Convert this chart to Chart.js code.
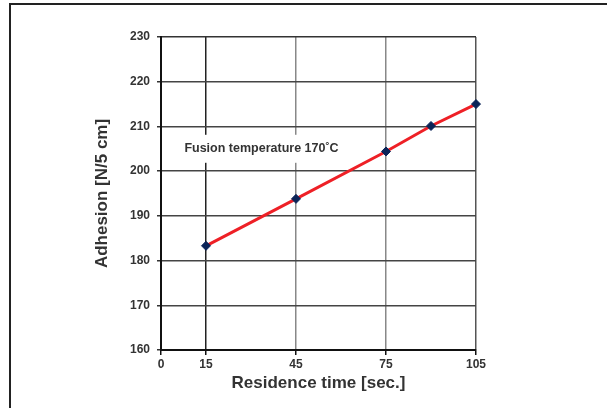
<!DOCTYPE html>
<html lang="en">
<head>
    <meta charset="UTF-8">
    <title>Adhesion vs residence time</title>
    <style type="text/css">
        html, body { margin: 0; background: #fff; overflow: hidden; }
    </style>
</head>
<body>
    <canvas id="myChart" width="607" height="408"></canvas>

    <script src="https://cdn.jsdelivr.net/npm/chart.js"></script>

    <script>
        // data
        const residence = [15, 45, 75, 90, 105];
        const adhesion = [183.3, 193.8, 204.4, 210.1, 215.0];
        const xTicks = [0, 15, 45, 75, 105];
        const note = 'Fusion temperature 170\u02DAC';

        const labelFont = { family: "'Liberation Sans', Arial, sans-serif", size: 12, weight: 'bold' };
        const titleFont = { family: "'Liberation Sans', Arial, sans-serif", size: 17, weight: 'bold' };

        // outer frame: only left and top edges are in view
        const framePlugin = {
            id: 'frame',
            beforeDraw(chart) {
                const c = chart.ctx;
                c.save();
                c.strokeStyle = '#222';
                c.lineWidth = 2;
                c.beginPath();
                c.moveTo(10, chart.height);
                c.lineTo(10, 4);
                c.lineTo(chart.width, 4);
                c.stroke();
                c.restore();
            }
        };

        // label with white box inside the plot area
        const notePlugin = {
            id: 'note',
            afterDatasetsDraw(chart) {
                const c = chart.ctx;
                const x = chart.scales.x.getPixelForValue(33.5);
                const y = chart.scales.y.getPixelForValue(205);
                c.save();
                c.font = "bold 12.5px 'Liberation Sans', Arial, sans-serif";
                const w = c.measureText(note).width;
                c.fillStyle = '#fff';
                c.fillRect(x - w / 2 - 6, y - 14, w + 12, 28);
                c.fillStyle = '#333';
                c.textAlign = 'center';
                c.textBaseline = 'middle';
                c.fillText(note, x, y);
                c.restore();
            }
        };

        const ctx = document.getElementById('myChart');
        new Chart(ctx, {
            type: 'scatter',
            data: {
                datasets: [{
                    data: residence.map((r, i) => ({ x: r, y: adhesion[i] })),
                    showLine: true,
                    clip: false,
                    borderColor: '#ee2026',
                    borderWidth: 3,
                    pointStyle: 'rectRot',
                    pointRadius: 4.5,
                    pointHoverRadius: 4.5,
                    pointBackgroundColor: '#0b2458',
                    pointBorderColor: '#0b2458',
                    pointBorderWidth: 1
                }]
            },
            options: {
                responsive: false,
                animation: false,
                devicePixelRatio: 1,
                layout: { padding: { top: 37, right: 131, left: 92, bottom: 14 } },
                plugins: {
                    legend: { display: false },
                    tooltip: { enabled: false }
                },
                scales: {
                    x: {
                        type: 'linear',
                        min: 0,
                        max: 105,
                        afterBuildTicks(axis) {
                            axis.ticks = xTicks.map(v => ({ value: v }));
                        },
                        afterFit(axis) { axis.height = 44; },
                        border: { color: '#111', width: 2 },
                        grid: {
                            color: (c) => ['#111', '#222', '#888', '#888', '#555'][c.index],
                            lineWidth: 1.5,
                            tickLength: 5,
                            tickColor: '#111'
                        },
                        ticks: {
                            color: '#333',
                            font: labelFont,
                            padding: 2,
                            maxRotation: 0
                        },
                        title: {
                            display: true,
                            text: 'Residence time [sec.]',
                            color: '#333',
                            font: titleFont,
                            padding: { top: 0, bottom: 0 }
                        }
                    },
                    y: {
                        min: 160,
                        max: 230,
                        afterFit(axis) { axis.width = 69; },
                        border: { color: '#111', width: 2 },
                        grid: {
                            color: (c) => c.index === 7 ? '#333' : '#444',
                            lineWidth: 1.5,
                            tickLength: 4,
                            tickColor: '#333'
                        },
                        ticks: {
                            stepSize: 10,
                            color: '#333',
                            font: labelFont,
                            padding: 7
                        },
                        title: {
                            display: true,
                            text: 'Adhesion [N/5 cm]',
                            color: '#333',
                            font: titleFont,
                            padding: { top: 0, bottom: 0 }
                        }
                    }
                }
            },
            plugins: [framePlugin, notePlugin]
        });
    </script>
</body>
</html>
